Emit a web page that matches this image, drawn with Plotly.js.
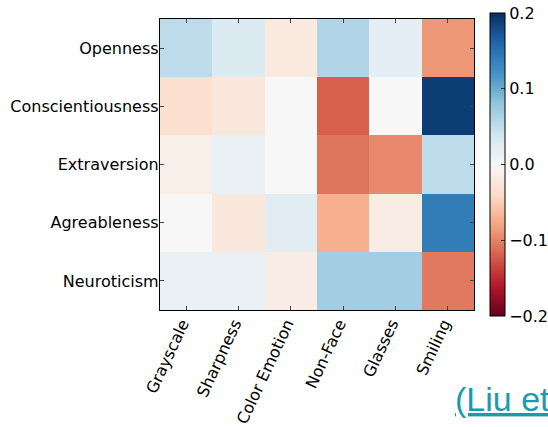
<!DOCTYPE html>
<html>
<head>
<meta charset="utf-8">
<script src="https://cdn.plot.ly/plotly-3.0.1.min.js"></script>
<style>html,body{margin:0;padding:0;background:#fff;}#chart{width:548px;height:427px;}</style>
</head>
<body>
<div id="chart"></div>
<script>
const features = ["Grayscale", "Sharpness", "Color Emotion", "Non-Face", "Glasses", "Smiling"];
const traits = ["Openness", "Conscientiousness", "Extraversion", "Agreableness", "Neuroticism"];
const openness          = [0.052, 0.028, -0.020, 0.060, 0.020, -0.088];
const conscientiousness = [-0.032, -0.022, 0.000, -0.120, 0.000, 0.190];
const extraversion      = [-0.012, 0.014, 0.000, -0.108, -0.096, 0.052];
const agreableness      = [0.000, -0.022, 0.022, -0.072, -0.016, 0.140];
const neuroticism       = [0.014, 0.014, -0.016, 0.070, 0.070, -0.106];
const cbTickVals = [0.2, 0.1, 0.0, -0.1, -0.2];
const cbTickText = ["0.2", "0.1", "0.0", "\u22120.1", "\u22120.2"];

const rdbu = [
  [0.0, "#67001f"], [0.1, "#b2182b"], [0.2, "#d6604d"], [0.3, "#f4a582"],
  [0.4, "#fddbc7"], [0.5, "#f7f7f7"], [0.6, "#d1e5f0"], [0.7, "#92c5de"],
  [0.8, "#4393c3"], [0.9, "#2166ac"], [1.0, "#053061"]
];

const font = {family: "DejaVu Sans", size: 16, color: "#000"};
const PW = 388;  // paper width: 548 - 160 margin

const data = [{
  type: "heatmap",
  x: features,
  y: traits,
  z: [openness, conscientiousness, extraversion, agreableness, neuroticism],
  zmin: -0.2, zmax: 0.2,
  colorscale: rdbu,
  hoverinfo: "none",
  colorbar: {
    x: (490 - 160) / PW, xanchor: "left", xpad: 0, ypad: 0,
    y: 0.5, yanchor: "middle",
    thickness: 15, len: 303, lenmode: "pixels",
    outlinewidth: 1, outlinecolor: "#000",
    tickvals: cbTickVals, ticktext: cbTickText,
    ticks: "inside", ticklen: 4, tickcolor: "#333",
    tickfont: {family: "DejaVu Sans", size: 16, color: "#000"}
  }
}];

const layout = {
  width: 548, height: 427,
  margin: {l: 160, r: 0, t: 19, b: 117, autoexpand: false},
  paper_bgcolor: "#fff", plot_bgcolor: "#fff",
  font: font,
  xaxis: {
    domain: [0, 314 / PW],
    type: "category", tickangle: -65, ticks: "inside", ticklen: 4, tickcolor: "#444",
    mirror: "ticks", showline: true, linecolor: "#000", linewidth: 1.2,
    showgrid: false, zeroline: false, tickfont: font, automargin: false,
    ticklabelstandoff: -3, ticklabelshift: -4
  },
  yaxis: {
    type: "category", autorange: "reversed", ticks: "inside", ticklen: 4, tickcolor: "#444",
    mirror: "ticks", showline: true, linecolor: "#000", linewidth: 1.2,
    showgrid: false, zeroline: false, tickfont: font, ticklabelstandoff: -3, automargin: false
  },
  annotations: [{
    xref: "paper", yref: "paper",
    x: (453 - 160) / PW, y: -(399 - 310) / 291,
    xanchor: "left", yanchor: "middle",
    text: "<u>(Liu et al., 2016)</u>",
    showarrow: false,
    font: {family: "Liberation Sans", size: 34, color: "#1a9bab"}
  }]
};

Plotly.newPlot("chart", data, layout, {displayModeBar: false, staticPlot: true});
</script>
</body>
</html>
